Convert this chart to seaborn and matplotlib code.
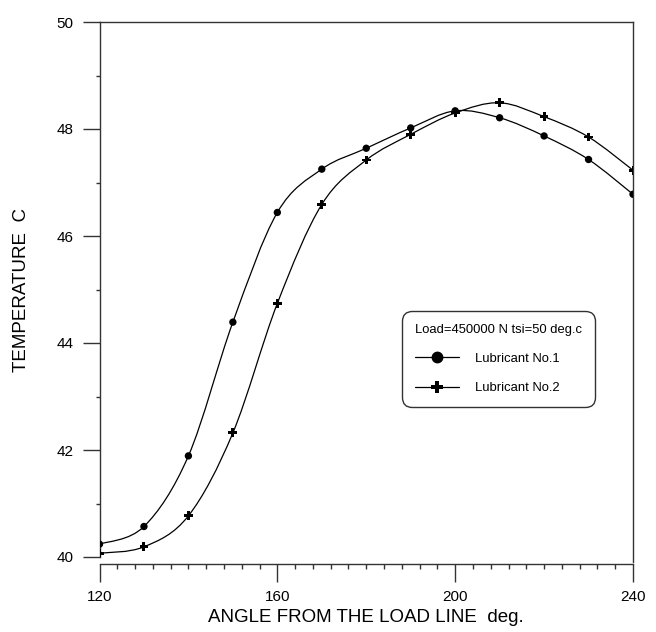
import numpy as np
import pandas as pd
import matplotlib
matplotlib.use("Agg")
import matplotlib.pyplot as plt
from matplotlib.path import Path
from matplotlib.patches import PathPatch
from matplotlib.lines import Line2D
from matplotlib.ticker import MultipleLocator
import seaborn as sns

angles = [120, 130, 140, 150, 160, 170, 180, 190, 200, 210, 220, 230, 240]
lub1 = [40.24, 40.57, 41.89, 44.39, 46.44, 47.25, 47.64, 48.02, 48.34, 48.21, 47.87, 47.43, 46.78]
lub2 = [40.07, 40.19, 40.77, 42.32, 44.74, 46.59, 47.42, 47.90, 48.30, 48.49, 48.23, 47.85, 47.23]
series_names = ["Lubricant No.1", "Lubricant No.2"]
x_ticks = [120, 160, 200, 240]
y_ticks = [40, 42, 44, 46, 48, 50]
legend_title = "Load=450000 N tsi=50 deg.c"
x_label = "ANGLE FROM THE LOAD LINE  deg."
y_label = "TEMPERATURE  C"

df = pd.DataFrame({
    "angle": angles * 2,
    "temp": lub1 + lub2,
    "series": [series_names[0]] * len(angles) + [series_names[1]] * len(angles),
})

sns.set_style("ticks")
plt.rcParams["font.family"] = ["Liberation Sans", "DejaVu Sans"]
plt.rcParams["text.color"] = "black"
plt.rcParams["axes.labelcolor"] = "black"
plt.rcParams["xtick.labelcolor"] = "black"
plt.rcParams["ytick.labelcolor"] = "black"

fig = plt.figure(figsize=(6.56, 6.32), dpi=100)
ax = fig.add_axes([99.5 / 656, 1 - 557 / 632, (633 - 99.5) / 656, (557 - 22) / 632])

spine_col = "#333333"


def smooth_path(xs, ys):
    pts = np.column_stack([xs, ys]).astype(float)
    n = len(pts)
    verts = [pts[0]]
    codes = [Path.MOVETO]
    for i in range(n - 1):
        p0 = pts[i - 1] if i > 0 else pts[i]
        p1 = pts[i]
        p2 = pts[i + 1]
        p3 = pts[i + 2] if i + 2 < n else pts[i + 1]
        c1 = p1 + (p2 - p0) / 6.0
        c2 = p2 - (p3 - p1) / 6.0
        verts += [c1, c2, p2]
        codes += [Path.CURVE4] * 3
    return Path(verts, codes)


for name in series_names:
    sub = df[df["series"] == name]
    patch = PathPatch(smooth_path(sub["angle"].values, sub["temp"].values),
                      facecolor="none", edgecolor="black", lw=0.9, zorder=2)
    ax.add_patch(patch)

sns.scatterplot(data=df, x="angle", y="temp", style="series",
                markers={series_names[0]: "o", series_names[1]: "P"},
                size="series", sizes={series_names[0]: 28, series_names[1]: 40},
                color="black", edgecolor="none", linewidth=0, ax=ax,
                legend=False, zorder=3)

ax.set_xlim(120, 240)
ax.set_ylim(40, 50)
ax.set_xticks(x_ticks)
ax.set_yticks(y_ticks)
ax.xaxis.set_minor_locator(MultipleLocator(4))
ax.yaxis.set_minor_locator(MultipleLocator(1))

for s in ["left", "right", "top", "bottom"]:
    ax.spines[s].set_color(spine_col)
    ax.spines[s].set_linewidth(1.0)
ax.spines["bottom"].set_position(("outward", 5))
ax.spines["right"].set_bounds(40 - 5 / 53.5, 50)

ax.tick_params(axis="x", which="major", direction="out", length=13, width=1.0,
               color=spine_col, labelsize=11, pad=6, labelcolor="black")
ax.tick_params(axis="x", which="minor", direction="out", length=3.6, width=1.0,
               color=spine_col)
ax.tick_params(axis="y", which="major", direction="out", length=12.5, width=1.0,
               color=spine_col, labelsize=11, pad=6, labelcolor="black")
ax.tick_params(axis="y", which="minor", direction="out", length=3, width=1.0,
               color=spine_col)

ax.set_xlabel(x_label, fontsize=13.5, labelpad=3, color="black")
ax.set_ylabel(y_label, fontsize=13.5, labelpad=19, color="black")

handles = [
    Line2D([], [], color="black", lw=0.9, marker="o", markersize=7.5, label=series_names[0]),
    Line2D([], [], color="black", lw=0.9, marker="P", markersize=9, markeredgewidth=0,
           label=series_names[1]),
]
leg = ax.legend(handles=handles, title=legend_title, loc="upper left",
                bbox_to_anchor=(0.567, 0.46), fontsize=9.4, title_fontsize=9.4,
                frameon=True, fancybox=True, handlelength=3.4, handletextpad=1.2,
                borderpad=1.0, labelspacing=1.3, borderaxespad=0)
leg._legend_box.align = "left"
frame = leg.get_frame()
frame.set_edgecolor(spine_col)
frame.set_linewidth(1.0)
frame.set_alpha(1)
frame.set_boxstyle("round,pad=0.,rounding_size=0.8")

fig.savefig("out.png", dpi=100)
